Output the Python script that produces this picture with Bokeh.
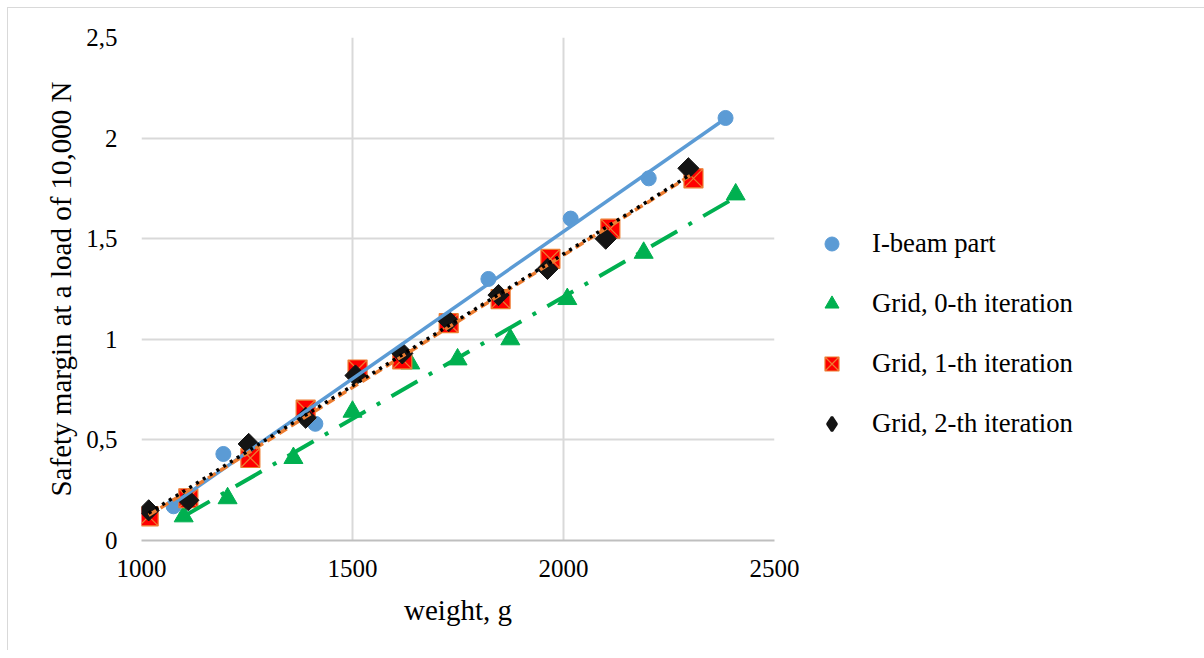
import numpy as np
from bokeh.plotting import figure
from bokeh.models import Range1d, SingleIntervalTicker, CustomJSTickFormatter, Legend, LegendItem
from bokeh.embed import file_html
from bokeh.resources import INLINE

# ---- data ----
ibeam_w = [1076, 1194, 1412, 1822, 2017, 2202, 2384]
ibeam_s = [0.17, 0.43, 0.58, 1.30, 1.60, 1.80, 2.10]

grid0_w = [1100, 1204, 1360, 1500, 1637, 1749, 1874, 2009, 2190, 2408]
grid0_s = [0.12, 0.21, 0.41, 0.64, 0.88, 0.90, 1.00, 1.20, 1.43, 1.72]

grid1_w = [1017, 1111, 1258, 1389, 1512, 1618, 1728, 1851, 1969, 2111, 2308]
grid1_s = [0.12, 0.21, 0.41, 0.65, 0.85, 0.90, 1.08, 1.20, 1.40, 1.55, 1.80]

grid2_w = [1017, 1111, 1254, 1389, 1507, 1618, 1728, 1846, 1962, 2100, 2296]
grid2_s = [0.15, 0.20, 0.48, 0.61, 0.82, 0.93, 1.09, 1.22, 1.35, 1.50, 1.85]

series_names = ["I-beam part", "Grid, 0-th iteration", "Grid, 1-th iteration", "Grid, 2-th iteration"]
x_title = "weight, g"
y_title = "Safety margin at a load of 10,000 N"

FONT = "Liberation Serif"
GRID = "#d9d9d9"

p = figure(frame_width=633, frame_height=503,
           x_range=Range1d(1000, 2500), y_range=Range1d(0, 2.5),
           output_backend="svg", toolbar_location=None,
           min_border_left=133, min_border_top=29,
           min_border_right=10, min_border_bottom=110)
p.styles = {"margin-left": "7px", "margin-top": "7px",
            "border-top": "1px solid #d9d9d9", "border-left": "1px solid #d9d9d9"}
p.outline_line_color = None
p.background_fill_color = "white"
p.border_fill_color = "white"

# axes
p.xaxis.ticker = SingleIntervalTicker(interval=500)
p.yaxis.ticker = SingleIntervalTicker(interval=0.5)
p.yaxis.formatter = CustomJSTickFormatter(code="return String(tick).replace('.', ',');")
for ax in (p.xaxis[0], p.yaxis[0]):
    ax.major_tick_in = 0
    ax.major_tick_out = 0
    ax.minor_tick_in = 0
    ax.minor_tick_out = 0
    ax.major_label_text_font = FONT
    ax.major_label_text_font_size = "25px"
    ax.major_label_text_color = "black"
    ax.axis_label_text_font = FONT
    ax.axis_label_text_font_size = "29px"
    ax.axis_label_text_font_style = "normal"
    ax.axis_label_text_color = "black"
p.xaxis.axis_line_color = "#bfbfbf"
p.xaxis.axis_line_width = 2
p.yaxis.axis_line_color = None
p.xaxis.major_label_standoff = 19
p.yaxis.major_label_standoff = 24
p.xaxis.axis_label_standoff = 14
p.yaxis.axis_label_standoff = 6
p.xaxis.axis_label = x_title
p.yaxis.axis_label = y_title

p.xgrid.ticker = SingleIntervalTicker(interval=500)
p.ygrid.ticker = SingleIntervalTicker(interval=0.5)
p.grid.grid_line_color = GRID
p.grid.grid_line_width = 2

# markers
r0 = p.scatter(ibeam_w, ibeam_s, marker="circle", size=15,
               fill_color="#5b9bd5", line_color="#5b9bd5")
r1 = p.scatter(grid0_w, grid0_s, marker="triangle", size=19,
               fill_color="#00b050", line_color="#00b050")
r2 = p.scatter(grid1_w, grid1_s, marker="square_x", size=19,
               fill_color="#ff0000", line_color="#ed7d31", line_width=1.2)
r3 = p.scatter(grid2_w, grid2_s, marker="square", size=15, angle=np.pi / 4,
               fill_color="#141414", line_color="#141414")
# legend stand-in for the rotated-square marker (draws no point)
r3_leg = p.scatter(x=[np.nan], y=[np.nan], marker="diamond", size=16,
                   fill_color="#141414", line_color="#141414", line_width=2.5)

# linear trendlines (computed from the series)
def trend(xs, ys):
    k, b = np.polyfit(xs, ys, 1)
    x = np.array([min(xs), max(xs)], dtype=float)
    return x, k * x + b

x, y = trend(ibeam_w, ibeam_s)
p.line(x, y, line_color="#5b9bd5", line_width=3.5)
x, y = trend(grid0_w, grid0_s)
p.line(x, y, line_color="#00b050", line_width=4, line_dash="30 13 4 13")
x, y = trend(grid1_w, grid1_s)
p.line(x, y, line_color="#ed7d31", line_width=3.5, line_dash="9 5")
x, y = trend(grid2_w, grid2_s)
p.line(x, y, line_color="black", line_width=3.5, line_dash="3 5")

legend = Legend(items=[LegendItem(label=n, renderers=[r]) for n, r in zip(series_names, [r0, r1, r2, r3_leg])],
                location=(40, 99))
legend.border_line_color = None
legend.background_fill_alpha = 0
legend.label_text_font = FONT
legend.label_text_font_size = "26.7px"
legend.label_text_color = "black"
legend.glyph_width = 35
legend.glyph_height = 35
legend.label_height = 35
legend.spacing = 25
legend.padding = 0
legend.margin = 0
legend.label_standoff = 23
p.add_layout(legend, "right")

open("out.html", "w").write(file_html(p, INLINE))
